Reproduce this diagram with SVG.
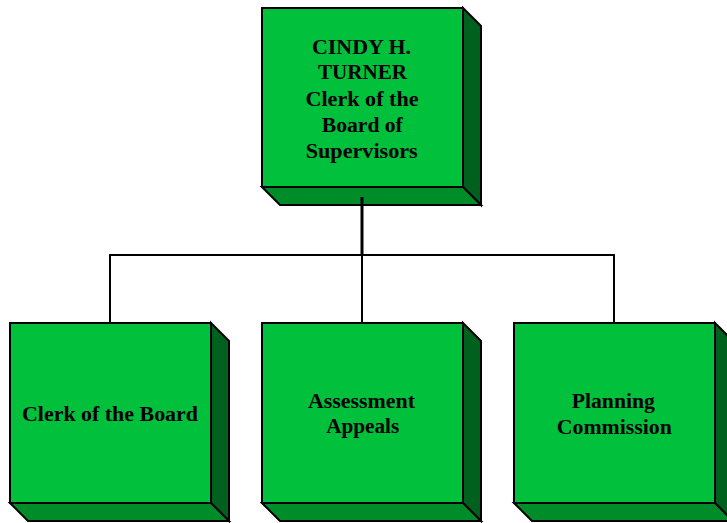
<svg xmlns="http://www.w3.org/2000/svg" width="727" height="523" viewBox="0 0 727 523">
  <defs>
    <style>
      .front { fill: #00c03c; stroke: #000; stroke-width: 2; stroke-linejoin: miter; }
      .side { fill: #00601e; stroke: #000; stroke-width: 2; stroke-linejoin: miter; }
      .bottom { fill: #008c28; stroke: #000; stroke-width: 2; stroke-linejoin: miter; }
      .label { font-family: "Liberation Serif", "Times New Roman", serif; font-weight: bold; font-size: 20px; fill: #000; text-anchor: middle; }
      .conn { fill: none; stroke: #000; stroke-width: 2; }
    </style>
  </defs>
  <rect width="727" height="523" fill="#fff"/>

  <!-- connectors -->
  <g id="connectors">
    <line class="conn" x1="362" y1="197" x2="362" y2="255" style="stroke-width:3"/>
    <polyline class="conn" points="110,323 110,255 614,255 614,323"/>
    <line class="conn" x1="362" y1="255" x2="362" y2="323"/>
  </g>

  <!-- top box -->
  <g id="clerk-head">
    <polygon class="side" points="463,8 481,26 481,205 463,187"/>
    <polygon class="bottom" points="262,187 280,205 481,205 463,187"/>
    <line class="conn" x1="362" y1="197" x2="362" y2="206" style="stroke-width:3"/>
    <rect class="front" x="262" y="8" width="201" height="179"/>
    <text class="label" x="361.5" y="54" textLength="99" lengthAdjust="spacingAndGlyphs">CINDY H.</text>
    <text class="label" x="362.5" y="79" textLength="89" lengthAdjust="spacingAndGlyphs">TURNER</text>
    <text class="label" x="362" y="106" textLength="113" lengthAdjust="spacingAndGlyphs">Clerk of the</text>
    <text class="label" x="362.3" y="132" textLength="81" lengthAdjust="spacingAndGlyphs">Board of</text>
    <text class="label" x="361.7" y="158" textLength="112" lengthAdjust="spacingAndGlyphs">Supervisors</text>
  </g>

  <!-- Clerk of the Board -->
  <g id="clerk-board">
    <polygon class="side" points="211,323 229,341 229,521 211,503"/>
    <polygon class="bottom" points="10,503 28,521 229,521 211,503"/>
    <rect class="front" x="10" y="323" width="201" height="180"/>
    <text class="label" x="110" y="421" textLength="176" lengthAdjust="spacingAndGlyphs">Clerk of the Board</text>
  </g>

  <!-- Assessment Appeals -->
  <g id="assessment-appeals">
    <polygon class="side" points="463,323 481,341 481,521 463,503"/>
    <polygon class="bottom" points="262,503 280,521 481,521 463,503"/>
    <rect class="front" x="262" y="323" width="201" height="180"/>
    <text class="label" x="361.5" y="408" textLength="107" lengthAdjust="spacingAndGlyphs">Assessment</text>
    <text class="label" x="362.7" y="433" textLength="73" lengthAdjust="spacingAndGlyphs">Appeals</text>
  </g>

  <!-- Planning Commission -->
  <g id="planning-commission">
    <polygon class="side" points="715,323 733,341 733,521 715,503"/>
    <polygon class="bottom" points="514,503 532,521 733,521 715,503"/>
    <rect class="front" x="514" y="323" width="201" height="180"/>
    <text class="label" x="613.3" y="408" textLength="83" lengthAdjust="spacingAndGlyphs">Planning</text>
    <text class="label" x="614.3" y="434" textLength="115" lengthAdjust="spacingAndGlyphs">Commission</text>
  </g>
</svg>
